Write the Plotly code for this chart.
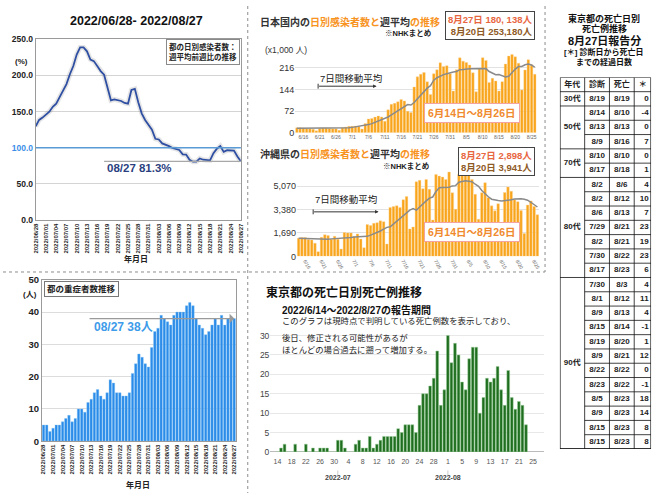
import itertools
import pandas as pd
import plotly.graph_objects as go

W, H = 661, 498


def px(x):
    return x / W


def py(y):
    return 1 - y / H


FONT = "Liberation Sans, Arial, Noto Sans CJK JP, sans-serif"
ORANGE = "#f7931e"
DAY = 86400000

#-------------------------------------------------------------------------------
#  data
#-------------------------------------------------------------------------------

# Tokyo: weekly average vs. previous week (%), 6/28 - 8/27
ratio_start = "2022-06-28"
ratio = [129.5, 138.5, 141.7, 145.3, 149.8, 156.6, 161.0, 170.0, 179.0, 188.0,
         201.7, 213.0, 228.8, 238.7, 238.7, 233.3, 222.0, 219.8, 213.0, 206.0,
         201.0, 184.0, 165.6, 167.0, 166.0, 164.7, 162.0, 161.0, 180.0, 181.4,
         163.0, 147.6, 138.5, 131.8, 125.0, 112.4, 111.5, 106.0, 104.7, 102.4,
         99.7, 98.0, 97.0, 91.0, 90.7, 83.5, 80.8, 80.8, 85.3, 83.5,
         82.6, 82.6, 92.5, 98.8, 102.4, 94.3, 96.6, 96.6, 96.1, 88.0, 81.3]
ratio_line_from = "2022-07-18"

# Japan / Okinawa daily cases, 6/14 - 8/26
cases_start = "2022-06-14"
jp_cases = [16.0, 16.5, 15.4, 14.2, 13.2, 11.5, 6.2,
            14.0, 15.1, 15.3, 14.3, 13.2, 13.0, 7.6,
            16.5, 18.5, 21.0, 21.5, 22.0, 20.5, 12.0,
            30.4, 45.8, 47.4, 51.9, 55.6, 52.5, 37.8,
            76.0, 94.4, 97.8, 102.9, 110.7, 105.8, 71.3,
            66.8, 152.5, 186.2, 195.1, 200.9, 169.4, 127.5,
            196.5, 209.7, 233.1, 220.5, 223.2, 196.8, 138.6,
            210.0, 249.6, 238.6, 234.1, 225.6, 199.7, 136.5,
            212.8, 250.3, 240.9, 167.3, 181.3, 172.6, 139.0,
            170.2, 229.0, 255.5, 261.0, 253.2, 231.5, 142.4,
            209.2, 243.4, 226.2, 195.0]
jp_avg = [14.5, 14.6, 14.4, 14.2, 14.0, 13.8, 13.4, 13.1, 13.1, 13.2,
          13.2, 13.3, 13.5, 13.7, 14.2, 15.1, 16.3, 17.6, 19.2, 20.4,
          21.3, 23.1, 26.8, 30.2, 34.1, 38.2, 42.5, 45.8, 52.3, 59.3,
          66.3, 73.4, 81.1, 88.7, 93.5, 92.2, 100.5, 113.3, 126.0, 138.7,
          148.4, 156.6, 175.1, 183.3, 189.9, 193.6, 196.8, 200.7, 202.3, 204.3,
          210.1, 210.8, 212.6, 212.9, 213.4, 213.0, 213.3, 213.4, 213.7, 203.9,
          197.6, 193.4, 193.9, 188.7, 186.0, 188.2, 201.6, 212.0, 220.4, 220.8,
          226.5, 228.7, 225.6, 218.2]
ok_cases = [1310, 1350, 1350, 1220, 1180, 950, 340,
            1370, 1560, 1500, 1240, 1450, 1240, 530,
            1720, 1690, 1690, 1430, 1620, 1250, 620,
            2290, 2230, 2380, 2430, 2560, 2500, 890,
            3530, 3600, 3650, 3530, 4080, 4310, 1980,
            2120, 5380, 5480, 4880, 5550, 4830, 2620,
            5910, 5790, 5720, 5550, 6080, 4590, 3400,
            5910, 6500, 6080, 6030, 5550, 4470, 2680,
            4590, 5310, 4230, 3640, 3280, 3800, 2400,
            4600, 5000, 4700, 4100, 3941, 3300, 1650,
            3700, 4000, 3600, 3000]
ok_avg = [1300, 1290, 1280, 1260, 1250, 1240, 1220, 1210, 1220, 1240,
          1260, 1270, 1290, 1300, 1310, 1340, 1360, 1390, 1400, 1420,
          1430, 1440, 1530, 1620, 1720, 1830, 1960, 2090, 2130, 2330,
          2520, 2700, 2870, 3080, 3330, 3450, 3330, 3560, 3800, 4000,
          4200, 4280, 4680, 4950, 4960, 4970, 4990, 5080, 5100, 5350,
          5380, 5450, 5420, 5380, 5200, 5050, 4750, 4500, 4300, 4120,
          4050, 4020, 4000, 4010, 4050, 4080, 4130, 4160, 4150, 4120,
          4050, 3900, 3750, 3560]
jp_ticks = [0, 72, 144, 216]
ok_ticks = [0, 1690, 3380, 5070]

# Tokyo severe cases, 6/28 - 8/27
severe_start = "2022-06-28"
severe = [5, 5, 3,
          4, 5, 5, 6, 7, 8, 6, 7, 10, 10, 9, 12, 13, 15, 16, 14,
          13, 15, 19, 18, 15, 15, 14, 14, 15, 21, 24, 27, 26, 24, 23,
          29, 34, 35, 39, 38, 37, 36, 39, 40, 40, 40, 42, 43, 42, 38,
          36, 35, 33, 34, 36, 38, 36, 39, 36, 38, 38, 38]
severe_line_from = "2022-07-12"

# Tokyo deaths by day of death, 6/14 - 8/23
deaths_start = "2022-06-14"
deaths = [0, 1, 2, 0, 0, 2, 0, 0, 2, 0, 1, 0, 1, 1, 1, 0, 0, 3, 3, 1,
          0, 0, 2, 3, 1, 1, 4, 1, 2, 3, 4, 4, 4, 4, 6, 5, 7, 7, 7, 5,
          12, 15, 15, 17, 19, 26, 12, 16, 30, 23, 28, 25, 18, 16, 24, 27, 27, 10, 14, 19,
          18, 19, 22, 16, 12, 21, 14, 11, 13, 12, 7]
month_marks = ["2022-07-01", "2022-08-01"]

# death table, reported 8/27
table_header = ["年代", "診断", "死亡", "＊"]
age_groups = ["30代", "50代", "70代", "80代", "90代"]
group_sizes = [1, 3, 2, 7, 12]
diag_dates = ["8/19", "8/14", "8/13", "8/9", "8/10", "8/17", "8/2", "8/2", "8/6",
              "7/29", "8/2", "7/30", "8/17", "7/30", "8/1", "8/9", "8/15", "8/19",
              "8/9", "8/22", "8/23", "8/5", "8/9", "8/15", "8/15"]
death_dates = ["8/19", "8/10", "8/13", "8/16", "8/10", "8/18", "8/6", "8/12", "8/13",
               "8/21", "8/21", "8/22", "8/23", "8/3", "8/12", "8/13", "8/14", "8/20",
               "8/21", "8/22", "8/22", "8/23", "8/23", "8/23", "8/23"]
elapsed = [0, -4, 0, 7, 0, 1, 4, 10, 7, 23, 19, 23, 6, 4, 11, 4, -1, 1, 12, 0,
           -1, 18, 14, 8, 8]

#-------------------------------------------------------------------------------

ratio_x = pd.date_range(ratio_start, periods=len(ratio))
case_x = pd.date_range(cases_start, periods=len(jp_cases))
severe_x = pd.date_range(severe_start, periods=len(severe))
deaths_x = pd.date_range(deaths_start, periods=len(deaths))
half = pd.Timedelta(hours=12)

fig = go.Figure()

# top left: weekly ratio line (with soft shadow)
fig.add_trace(go.Scatter(x=ratio_x, y=ratio, mode="lines", xaxis="x", yaxis="y",
                         line=dict(color="rgba(80,80,80,0.15)", width=5), hoverinfo="skip"))
fig.add_trace(go.Scatter(x=ratio_x, y=ratio, mode="lines", xaxis="x", yaxis="y",
                         line=dict(color="#2f4fa3", width=1.8)))

# Japan
fig.add_trace(go.Bar(x=case_x, y=jp_cases, xaxis="x2", yaxis="y2",
                     marker=dict(color="#f9a51c", line=dict(color="#fdd699", width=0.4))))
fig.add_trace(go.Scatter(x=case_x, y=jp_avg, mode="lines", xaxis="x2", yaxis="y2",
                         line=dict(color="#8a8a8a", width=1.5)))

# Okinawa
fig.add_trace(go.Bar(x=case_x, y=ok_cases, xaxis="x3", yaxis="y3",
                     marker=dict(color="#f9a51c", line=dict(color="#fdd699", width=0.4))))
fig.add_trace(go.Scatter(x=case_x, y=ok_avg, mode="lines", xaxis="x3", yaxis="y3",
                         line=dict(color="#8a8a8a", width=1.5)))

# severe cases
fig.add_trace(go.Bar(x=severe_x, y=severe, xaxis="x4", yaxis="y4",
                     marker=dict(color="#2a8be8", line=dict(color="#86c4f6", width=0.4))))

# deaths
fig.add_trace(go.Bar(x=deaths_x, y=deaths, xaxis="x5", yaxis="y5",
                     marker=dict(color="#1f6e1f", line=dict(color="#9ccf9c", width=0.5))))

# table text
col_w = [25, 25, 25, 17]
edges = [0] + list(itertools.accumulate(col_w))
centers = [(a + b) / 2 for a, b in zip(edges[:-1], edges[1:])]
n_rows = len(diag_dates)
group_start = [0] + list(itertools.accumulate(group_sizes))[:-1]


def table_text(x, y, text, pos="middle center"):
    fig.add_trace(go.Scatter(x=x, y=y, text=[f"<b>{t}</b>" for t in text], mode="text",
                             textposition=pos, xaxis="x6", yaxis="y6", hoverinfo="skip",
                             textfont=dict(size=8, color="#222", family=FONT)))


table_text(centers, [0.5] * 4, table_header)
table_text([centers[0]] * len(age_groups),
           [1 + s + n / 2 for s, n in zip(group_start, group_sizes)], age_groups)
table_text([centers[1]] * n_rows, [r + 1.5 for r in range(n_rows)], diag_dates)
table_text([centers[2]] * n_rows, [r + 1.5 for r in range(n_rows)], death_dates)
table_text([edges[-1] - 2.5] * n_rows, [r + 1.5 for r in range(n_rows)],
           [str(v) for v in elapsed], pos="middle left")

#-------------------------------------------------------------------------------
#  shapes
#-------------------------------------------------------------------------------

shapes = []
# panel separators
for x0, y0, x1, y1 in [(247, 0, 247, 498), (0, 272, 547, 272), (547, 0, 547, 272)]:
    shapes.append(dict(type="line", xref="paper", yref="paper", x0=px(x0), x1=px(x1),
                       y0=py(y0), y1=py(y1), line=dict(color="#8c8c8c", width=1, dash="dot")))
# 100% reference and latest value guide
shapes.append(dict(type="line", xref="x domain", yref="y", x0=0, x1=1, y0=100, y1=100,
                   line=dict(color="#5b9bd5", width=1.5)))
shapes.append(dict(type="line", xref="x", yref="y", x0=ratio_line_from, x1=ratio_x[-1],
                   y0=ratio[-1], y1=ratio[-1], line=dict(color="#a8a8a8", width=1.2)))
# arrow start ticks for 7-day average notes
for xx, yy in ((318, 82), (313, 210.5)):
    shapes.append(dict(type="line", xref="paper", yref="paper", x0=px(xx), x1=px(xx),
                       y0=py(yy - 2.5), y1=py(yy + 2.5), line=dict(color="#333", width=1)))
# month marks under deaths chart
for m in month_marks:
    shapes.append(dict(type="line", xref="x5", yref="paper", x0=m, x1=m, y0=py(475), y1=py(481),
                       line=dict(color="#cccccc", width=1)))
# table grid
bounds = [1 + s for s in group_start] + [1 + n_rows]
for r in range(1, n_rows + 2):
    full = r in bounds or r == 1
    shapes.append(dict(type="line", xref="x6", yref="y6", x0=0 if full else edges[1],
                       x1=edges[-1], y0=r, y1=r, line=dict(color="#111", width=0.8)))
for e in edges[1:-1]:
    shapes.append(dict(type="line", xref="x6", yref="y6", x0=e, x1=e, y0=0, y1=n_rows + 1,
                       line=dict(color="#111", width=0.8)))
shapes.append(dict(type="rect", xref="x6", yref="y6", x0=0, x1=edges[-1], y0=0, y1=n_rows + 1,
                   line=dict(color="#111", width=1.3)))

#-------------------------------------------------------------------------------
#  annotations
#-------------------------------------------------------------------------------

ann = []


def note(x, y, text, size=9, color="#222", xanchor="center", yanchor="middle", **kw):
    ann.append(dict(x=px(x), y=py(y), xref="paper", yref="paper", text=text, showarrow=False,
                    xanchor=xanchor, yanchor=yanchor, font=dict(size=size, color=color, family=FONT),
                    **kw))


# top left
note(135, 15, "<b>2022/06/28- 2022/08/27</b>", size=12.5, color="#111")
note(19, 57, "<b>(%)</b>", size=8)
note(239, 33.5, "<b>都の日別感染者数：<br>週平均前週比の推移</b>", size=7.5, xanchor="right",
     yanchor="top", align="left", bgcolor="white", bordercolor="#8a8a8a", borderwidth=1, borderpad=2)
note(103, 166, "<b>08/27 81.3%</b>", size=11.5, color="#2b3f7f", xanchor="left")
note(134, 259, "<b>年月日</b>", size=8)

# Japan / Okinawa
for top, area, latest, week_ago in [(0, "日本国内の", "180, 138人", "253,180人"),
                                    (135, "沖縄県の", "2,898人", "3,941人")]:
    note(257, top + 16, f"<b>{area}<span style='color:{ORANGE}'>日別感染者数と</span>週平均"
         f"<span style='color:{ORANGE}'>の推移</span></b>", size=10, color="#333", xanchor="left")
    note(434 if top == 0 else 432, top + 28 if top == 0 else top + 29, "<b>※NHKまとめ</b>",
         size=7.5, xanchor="right")
    note(537, top + 5 if top == 0 else top + 9,
         f"<b><span style='color:#e8663f'>8月27日 {latest}</span><br>"
         f"<span style='color:#8e5a25'>8月20日 {week_ago}</span></b>",
         size=9.5, xanchor="right", yanchor="top", align="right",
         bgcolor="white", bordercolor="#444", borderwidth=1, borderpad=2)

note(262, 45, "(x1,000 人)", size=8.5, color="#333", xanchor="left")
note(318, 74, "7日間移動平均", size=9.5, xanchor="left")
note(313, 198, "7日間移動平均", size=9.5, xanchor="left")
note(473, 109.5, "<b>6月14日～8月26日</b>", size=10.5, color="#f08a2e",
     bgcolor="white", bordercolor="#f4a3a3", borderwidth=1, borderpad=3)
note(473, 231, "<b>6月14日～8月26日</b>", size=10.5, color="#f08a2e",
     bgcolor="white", bordercolor="#f4a3a3", borderwidth=1, borderpad=3)
for x0, x1, yy in [(318, 377, 82), (313, 379, 210.5)]:
    ann.append(dict(x=px(x1), y=py(yy), xref="paper", yref="paper", text="", showarrow=True,
                    ax=-(x1 - x0), ay=0, arrowhead=2, arrowsize=0.7, arrowwidth=1, arrowcolor="#333"))

# severe cases
note(27, 295, "<b>(人)</b>", size=8)
note(41, 281.5, "<b>都の重症者数推移</b>", size=8.5, xanchor="left", yanchor="top",
     bgcolor="white", bordercolor="#777", borderwidth=1, borderpad=2)
note(90, 328, "<b>08/27 38人</b>", size=12, color="#3d9be9", xanchor="left")
note(136, 490, "<b>年月日</b>", size=8)
ann.append(dict(x=severe_x[-1], y=severe[-1], xref="x4", yref="y4", axref="x4", ayref="y4",
                ax=severe_line_from, ay=severe[-1], text="", showarrow=True, arrowhead=1,
                arrowsize=1.3, arrowwidth=1.2, arrowcolor="#9a9a9a"))

# deaths
note(263, 293, "<b>東京都の死亡日別死亡例推移</b>", size=12, color="#111", xanchor="left")
note(280, 311, "<b>2022/6/14～2022/8/27の報告期間</b>", size=10, color="#111", xanchor="left")
note(280, 322.5, "このグラフは現時点で判明している死亡例数を表示しており、", size=8.4, xanchor="left")
note(280, 339, "後日、修正される可能性があるが", size=8.4, xanchor="left")
note(280, 351.5, "ほとんどの場合過去に遡って増加する。", size=8.4, xanchor="left")
for m in month_marks:
    ann.append(dict(x=m, y=py(488), xref="x5", yref="paper", text=f"<b>{m[:7]}</b>",
                    showarrow=False, font=dict(size=7, color="#444", family=FONT)))

# table title
note(607, 13, "<b>東京都の死亡日別</b>", size=9, color="#111")
note(607, 23, "<b>死亡例推移</b>", size=9, color="#111")
note(607, 35, "<b>8月27日報告分</b>", size=11, color="#111")
note(607, 47, "<b>[＊] 診断日から死亡日</b>", size=8, color="#111")
note(607, 57, "<b>までの経過日数</b>", size=8, color="#111")

#-------------------------------------------------------------------------------
#  axes
#-------------------------------------------------------------------------------

small_date = dict(type="date", showgrid=False, zeroline=False, ticks="",
                  tickfont=dict(size=5, color="#666"))

fig.update_layout(
    width=W, height=H, autosize=False, margin=dict(l=0, r=0, t=0, b=0),
    paper_bgcolor="white", plot_bgcolor="white", showlegend=False, bargap=0.22,
    font=dict(family=FONT, color="#222"),
    shapes=shapes, annotations=ann,
    xaxis=dict(domain=[px(33), px(240)], anchor="y", type="date",
               range=[ratio_x[0], ratio_x[-1]], tick0=ratio_start, dtick=3 * DAY,
               tickformat="%Y/%m/%d", tickangle=-90, tickfont=dict(size=6, weight="bold"),
               showgrid=False, showline=True, mirror=True, linecolor="#9a9a9a"),
    yaxis=dict(domain=[py(219), py(34)], anchor="x", range=[0, 250],
               tickvals=[0, 50, 100, 150, 200, 250],
               ticktext=["0.0", "50.0", "<span style='color:#3b8ee8'>100.0</span>",
                         "150.0", "200.0", "250.0"],
               tickfont=dict(size=8.5, weight="bold"), gridcolor="#d4d4d4", zeroline=False,
               showline=True, mirror=True, linecolor="#9a9a9a"),
    xaxis2=dict(small_date, domain=[px(294.85), px(538.35)], anchor="y2",
                range=[case_x[0] - half, case_x[-1] + half], tick0="2022-06-16",
                dtick=5 * DAY, tickformat="%-m/%-d"),
    yaxis2=dict(domain=[py(129.5), py(43.7)], anchor="x2", range=[0, 280], tickvals=jp_ticks,
                gridcolor="#e2e2e2", zeroline=False, tickfont=dict(size=9, color="#333")),
    xaxis3=dict(small_date, domain=[px(296.65), px(540.95)], anchor="y3",
                range=[case_x[0] - half, case_x[-1] + half], tick0="2022-06-16",
                dtick=5 * DAY, tickformat="%-m/%-d", tickangle=60),
    yaxis3=dict(domain=[py(256), py(161)], anchor="x3", range=[0, 6700], tickvals=ok_ticks,
                tickformat=",", gridcolor="#e2e2e2", zeroline=False,
                tickfont=dict(size=9, color="#333")),
    xaxis4=dict(domain=[px(39.3), px(235)], anchor="y4", type="date",
                range=[severe_x[0] - half, severe_x[-1] + half], tick0=severe_start,
                dtick=3 * DAY, tickformat="%Y/%m/%d", tickangle=-90,
                tickfont=dict(size=6, weight="bold"), showgrid=False,
                showline=True, mirror=True, linecolor="#9a9a9a"),
    yaxis4=dict(domain=[py(445), py(280)], anchor="x4", range=[0, 50], dtick=10,
                tickfont=dict(size=9.5, weight="bold"), gridcolor="#dcdcdc", zeroline=False,
                showline=True, mirror=True, linecolor="#9a9a9a"),
    xaxis5=dict(domain=[px(269.8), px(545.7)], anchor="y5", type="date",
                range=["2022-06-12", "2022-08-28"], tick0="2022-06-14", dtick=4 * DAY,
                tickformat="%-d", tickfont=dict(size=7, color="#555"), showgrid=False,
                zeroline=False, ticklabelstandoff=4),
    yaxis5=dict(domain=[py(456), py(334.6)], anchor="x5", range=[0, 30.6], dtick=5,
                tickfont=dict(size=8.5, color="#444"), gridcolor="#e8e8e8",
                zeroline=True, zerolinecolor="#bbbbbb", zerolinewidth=1),
    xaxis6=dict(domain=[px(562), px(654)], anchor="y6", range=[0, edges[-1]], visible=False),
    yaxis6=dict(domain=[py(453), py(73)], anchor="x6", range=[n_rows + 1, 0], visible=False),
)

# drop the default page margin so the figure sits at the window's corner
fig.write_html("out.html", config={"displayModeBar": False},
               post_script="document.body.style.margin = '0';")
